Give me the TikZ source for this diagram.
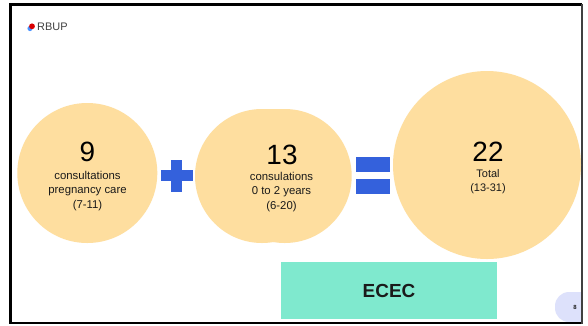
\documentclass[tikz,border=0pt]{standalone}
\usepackage{fontspec}
\setmainfont{Liberation Sans}
\definecolor{peach}{HTML}{FEDE9F}
\definecolor{opblue}{HTML}{3461DC}
\definecolor{teal}{HTML}{7FE9CE}
\definecolor{pagebg}{HTML}{DDE1FB}
\definecolor{txt}{HTML}{1A1A1A}
\tikzset{
  disc/.style={circle,fill=peach,draw=none,inner sep=0pt,minimum size=#1},
  big/.style={font=\fontsize{28}{30}\selectfont,text=black,inner sep=0pt},
  small/.style={font=\fontsize{11.4}{14.5}\selectfont,text=txt,align=center,inner sep=0pt},
}
\begin{document}
\begin{tikzpicture}[x=1bp,y=-1bp]
\useasboundingbox (0,0) rectangle (588,325);
\fill[white] (0,0) rectangle (588,325);
% page badge
\begin{scope}
\clip (12,6) rectangle (581,322);
\fill[pagebg,rounded corners=14bp] (555,292) rectangle (600,322);
\end{scope}
\node[font=\bfseries\fontsize{6}{7}\selectfont,text=txt,inner sep=0pt] (pagenum) at (575,307) {8};
% frame
\draw[black,line width=3bp] (10.5,4.5) -- (10.5,323.5);
\draw[black,line width=3bp] (9,4.5) -- (582,4.5);
\draw[black,line width=2bp] (9,323) -- (582,323);
\draw[black!75,line width=1.5bp] (581.8,4) -- (581.8,324);
% discs
\node[disc=140bp] (a) at (87.3,173) {};
\node[disc=134bp] (b1) at (262,176) {};
\node[disc=134bp] (b2) at (284.7,176) {};
\fill[peach] (262,109.4) rectangle (284.7,241.8);
\node[disc=188bp] (c) at (487,165) {};
% texts
\node[big] (an) at (87.5,152) {9};
\node[small] (at) at (87.5,191) {consultations\\pregnancy care\\(7-11)};
\node[big] (bn) at (282,155) {13};
\node[small] (bt) at (281.5,192) {consulations\\0 to 2 years\\(6-20)};
\node[big] (cn) at (488,152) {22};
\node[small,font=\fontsize{11}{14.5}\selectfont] (ct) at (488,181.5) {Total\\(13-31)};
% operators
\fill[opblue] (171,160) rectangle (182,191.5);
\fill[opblue] (160.7,170.3) rectangle (192.7,181);
\fill[opblue] (356,157) rectangle (390,172);
\fill[opblue] (356,179) rectangle (390,194);
% ECEC
\node[fill=teal,minimum width=216bp,minimum height=57bp,inner sep=0pt,font=\bfseries\fontsize{19}{22}\selectfont,text=txt] (e) at (389,290.5) {ECEC};
% logo
\fill[blue!60!cyan!70] (30,28.5) circle (2.6bp);
\fill[red!85!black] (32,26.3) circle (2.9bp);
\node[anchor=west,font=\fontsize{11}{13}\selectfont,text=black!75,inner sep=0pt] (logo) at (37,26.5) {RBUP};
\end{tikzpicture}
\end{document}
